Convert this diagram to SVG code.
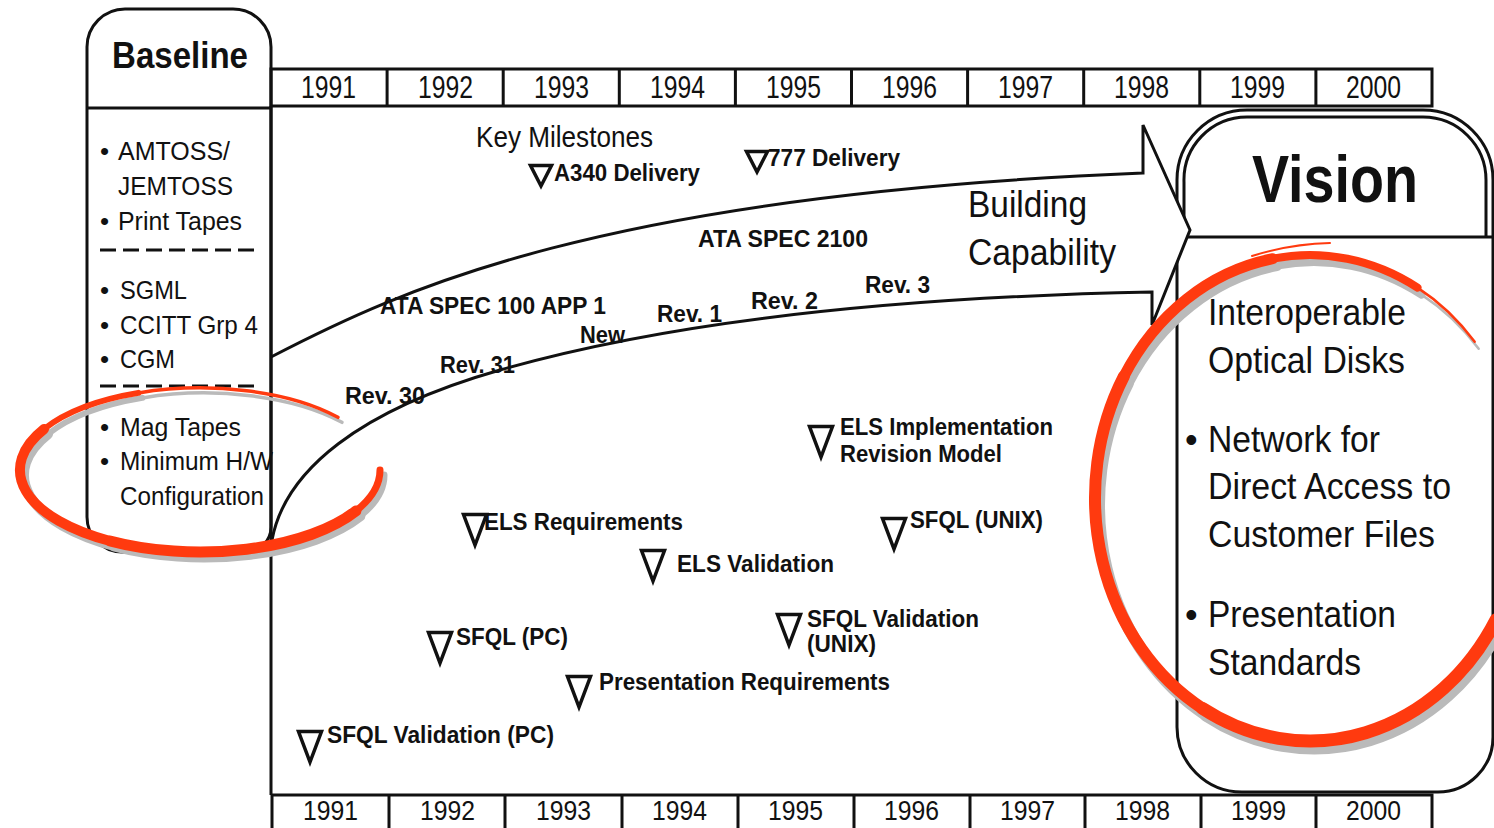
<svg xmlns="http://www.w3.org/2000/svg" xmlns:xlink="http://www.w3.org/1999/xlink" width="1494" height="828" viewBox="0 0 1494 828">
<style>
.ln{fill:none;stroke:#111;stroke-width:3}
.t{font-family:"Liberation Sans",Arial,sans-serif;fill:#111}
.yr{font-size:31px}
.yb{font-size:28px}
.bl{font-size:26px}
.ms{font-size:24px;font-weight:bold}
.vs{font-size:36px}
.tri{fill:none;stroke:#111;stroke-width:3.5;stroke-linejoin:miter}
.red{fill:none;stroke:#ff3a0f;stroke-linecap:round}
.shd{fill:none;stroke:#bababa;stroke-linecap:round}
</style>
<defs>
<path id="tri" class="tri" d="M1.5,1.5 H24.5 L13,32 Z"/>
<path id="triS" class="tri" d="M1.5,1.5 H22.5 L12,22 Z"/>
</defs>
<rect width="1494" height="828" fill="#fff"/>

<g id="vision">
<path class="ln" d="M1177,262 L1177,180 A70,70 0 0 1 1247,110 L1423,110 A70,70 0 0 1 1493,180 L1493,737 A55,55 0 0 1 1438,792 L1242,792 A65,65 0 0 1 1177,727 Z"/>
<path class="ln" stroke-width="2.5" d="M1184,237 L1184,182 A63,63 0 0 1 1247,117 L1423,117 A63,63 0 0 1 1486,180 L1486,237"/>
<line class="ln" x1="1177" y1="237" x2="1493" y2="237"/>
<text class="t" x="1252" y="202" font-size="66" font-weight="bold" textLength="166" lengthAdjust="spacingAndGlyphs">Vision</text>
<text class="t vs" x="1208" y="325" textLength="198" lengthAdjust="spacingAndGlyphs">Interoperable</text>
<text class="t vs" x="1208" y="373" textLength="197" lengthAdjust="spacingAndGlyphs">Optical Disks</text>
<text class="t vs" x="1185" y="452">•</text>
<text class="t vs" x="1208" y="452" textLength="172" lengthAdjust="spacingAndGlyphs">Network for</text>
<text class="t vs" x="1208" y="499" textLength="243" lengthAdjust="spacingAndGlyphs">Direct Access to</text>
<text class="t vs" x="1208" y="547" textLength="227" lengthAdjust="spacingAndGlyphs">Customer Files</text>
<text class="t vs" x="1185" y="627">•</text>
<text class="t vs" x="1208" y="627" textLength="188" lengthAdjust="spacingAndGlyphs">Presentation</text>
<text class="t vs" x="1208" y="675" textLength="153" lengthAdjust="spacingAndGlyphs">Standards</text>
</g>

<g id="arrow">
<path fill="#fff" stroke="none" d="M271,357 C400,290 600,195 1143,173 L1143,125 L1190,230 L1152,325 L1152,292 C850,298 640,330 500,370 C360,410 285,470 272,540 Z"/>
<path class="ln" d="M271,357 C400,290 600,195 1143,173 L1143,125 L1190,230 L1152,325 L1152,292 C850,298 640,330 500,370 C360,410 285,470 272,540"/>
<text class="t" x="968" y="217" font-size="37" textLength="119" lengthAdjust="spacingAndGlyphs">Building</text>
<text class="t" x="968" y="265" font-size="37" textLength="148" lengthAdjust="spacingAndGlyphs">Capability</text>
</g>

<g id="timeline-top">
<rect class="ln" x="271" y="69" width="1161" height="37"/>
<path class="ln" d="M387.1,69V106M503.2,69V106M619.3,69V106M735.4,69V106M851.5,69V106M967.6,69V106M1083.7,69V106M1199.8,69V106M1315.9,69V106"/>
<g class="t yr">
<text x="301" y="98" textLength="55" lengthAdjust="spacingAndGlyphs">1991</text>
<text x="418" y="98" textLength="55" lengthAdjust="spacingAndGlyphs">1992</text>
<text x="534" y="98" textLength="55" lengthAdjust="spacingAndGlyphs">1993</text>
<text x="650" y="98" textLength="55" lengthAdjust="spacingAndGlyphs">1994</text>
<text x="766" y="98" textLength="55" lengthAdjust="spacingAndGlyphs">1995</text>
<text x="882" y="98" textLength="55" lengthAdjust="spacingAndGlyphs">1996</text>
<text x="998" y="98" textLength="55" lengthAdjust="spacingAndGlyphs">1997</text>
<text x="1114" y="98" textLength="55" lengthAdjust="spacingAndGlyphs">1998</text>
<text x="1230" y="98" textLength="55" lengthAdjust="spacingAndGlyphs">1999</text>
<text x="1346" y="98" textLength="55" lengthAdjust="spacingAndGlyphs">2000</text>
</g>
</g>

<g id="timeline-bottom">
<rect class="ln" x="272" y="795" width="1160" height="45"/>
<path class="ln" d="M389,795V828M505,795V828M622,795V828M738,795V828M854,795V828M970,795V828M1085,795V828M1201,795V828M1316,795V828"/>
<g class="t yb">
<text x="303" y="820" textLength="55" lengthAdjust="spacingAndGlyphs">1991</text>
<text x="420" y="820" textLength="55" lengthAdjust="spacingAndGlyphs">1992</text>
<text x="536" y="820" textLength="55" lengthAdjust="spacingAndGlyphs">1993</text>
<text x="652" y="820" textLength="55" lengthAdjust="spacingAndGlyphs">1994</text>
<text x="768" y="820" textLength="55" lengthAdjust="spacingAndGlyphs">1995</text>
<text x="884" y="820" textLength="55" lengthAdjust="spacingAndGlyphs">1996</text>
<text x="1000" y="820" textLength="55" lengthAdjust="spacingAndGlyphs">1997</text>
<text x="1115" y="820" textLength="55" lengthAdjust="spacingAndGlyphs">1998</text>
<text x="1231" y="820" textLength="55" lengthAdjust="spacingAndGlyphs">1999</text>
<text x="1346" y="820" textLength="55" lengthAdjust="spacingAndGlyphs">2000</text>
</g>
</g>

<g id="main-frame">
<line class="ln" x1="271" y1="106" x2="271" y2="795"/>
</g>

<g id="baseline">
<path class="ln" d="M87,517 L87,47 A38,38 0 0 1 125,9 L233,9 A38,38 0 0 1 271,47 L271,527 A25,25 0 0 1 246,552 L122,552 A35,35 0 0 1 87,517 Z"/>
<line class="ln" x1="87" y1="108" x2="271" y2="108"/>
<path class="ln" stroke-width="2.5" stroke-dasharray="16,7" d="M100,250H258M100,386H258"/>
<text class="t" x="112" y="68" font-size="36" font-weight="bold" textLength="136" lengthAdjust="spacingAndGlyphs">Baseline</text>
<g class="t bl">
<text x="100" y="160">•</text><text x="118" y="160" textLength="112" lengthAdjust="spacingAndGlyphs">AMTOSS/</text>
<text x="118" y="195" textLength="115" lengthAdjust="spacingAndGlyphs">JEMTOSS</text>
<text x="100" y="230">•</text><text x="118" y="230" textLength="124" lengthAdjust="spacingAndGlyphs">Print Tapes</text>
<text x="100" y="299">•</text><text x="120" y="299" textLength="67" lengthAdjust="spacingAndGlyphs">SGML</text>
<text x="100" y="334">•</text><text x="120" y="334" textLength="138" lengthAdjust="spacingAndGlyphs">CCITT Grp 4</text>
<text x="100" y="368">•</text><text x="120" y="368" textLength="55" lengthAdjust="spacingAndGlyphs">CGM</text>
<text x="100" y="436">•</text><text x="120" y="436" textLength="121" lengthAdjust="spacingAndGlyphs">Mag Tapes</text>
<text x="100" y="470">•</text><text x="120" y="470" textLength="153" lengthAdjust="spacingAndGlyphs">Minimum H/W</text>
<text x="120" y="505" textLength="144" lengthAdjust="spacingAndGlyphs">Configuration</text>
</g>
</g>

<g id="connectors">
<text class="t" x="476" y="147" font-size="29" textLength="177" lengthAdjust="spacingAndGlyphs">Key Milestones</text>
<g class="t ms">
<text x="698" y="247" textLength="170" lengthAdjust="spacingAndGlyphs">ATA SPEC 2100</text>
<text x="380" y="314" textLength="226" lengthAdjust="spacingAndGlyphs">ATA SPEC 100 APP 1</text>
<text x="345" y="404" textLength="80" lengthAdjust="spacingAndGlyphs">Rev. 30</text>
<text x="440" y="373" textLength="75" lengthAdjust="spacingAndGlyphs">Rev. 31</text>
<text x="580" y="343" textLength="45" lengthAdjust="spacingAndGlyphs">New</text>
<text x="657" y="322" textLength="65" lengthAdjust="spacingAndGlyphs">Rev. 1</text>
<text x="751" y="309" textLength="67" lengthAdjust="spacingAndGlyphs">Rev. 2</text>
<text x="865" y="293" textLength="65" lengthAdjust="spacingAndGlyphs">Rev. 3</text>
</g>
</g>

<g id="milestone-a340"><use xlink:href="#triS" x="529" y="164"/><text class="t ms" x="554" y="181" textLength="146" lengthAdjust="spacingAndGlyphs">A340 Delivery</text></g>
<g id="milestone-777"><use xlink:href="#triS" x="745" y="150"/><text class="t ms" x="768" y="166" textLength="132" lengthAdjust="spacingAndGlyphs">777 Delivery</text></g>
<g id="milestone-els-impl"><use xlink:href="#tri" x="808" y="425"/><text class="t ms" x="840" y="435" textLength="213" lengthAdjust="spacingAndGlyphs">ELS Implementation</text><text class="t ms" x="840" y="462" textLength="162" lengthAdjust="spacingAndGlyphs">Revision Model</text></g>
<g id="milestone-sfql-unix"><use xlink:href="#tri" x="881" y="517"/><text class="t ms" x="910" y="528" textLength="133" lengthAdjust="spacingAndGlyphs">SFQL (UNIX)</text></g>
<g id="milestone-els-req"><use xlink:href="#tri" x="462" y="513"/><text class="t ms" x="484" y="530" textLength="199" lengthAdjust="spacingAndGlyphs">ELS Requirements</text></g>
<g id="milestone-els-val"><use xlink:href="#tri" x="640" y="549"/><text class="t ms" x="677" y="572" textLength="157" lengthAdjust="spacingAndGlyphs">ELS Validation</text></g>
<g id="milestone-sfql-pc"><use xlink:href="#tri" x="427" y="631"/><text class="t ms" x="456" y="645" textLength="112" lengthAdjust="spacingAndGlyphs">SFQL (PC)</text></g>
<g id="milestone-sfql-val-unix"><use xlink:href="#tri" x="776" y="613"/><text class="t ms" x="807" y="627" textLength="172" lengthAdjust="spacingAndGlyphs">SFQL Validation</text><text class="t ms" x="807" y="652" textLength="69" lengthAdjust="spacingAndGlyphs">(UNIX)</text></g>
<g id="milestone-pres-req"><use xlink:href="#tri" x="566" y="675"/><text class="t ms" x="599" y="690" textLength="291" lengthAdjust="spacingAndGlyphs">Presentation Requirements</text></g>
<g id="milestone-sfql-val-pc"><use xlink:href="#tri" x="297" y="730"/><text class="t ms" x="327" y="743" textLength="227" lengthAdjust="spacingAndGlyphs">SFQL Validation (PC)</text></g>

<g id="highlight-baseline">
<g class="shd" transform="translate(4,5)">
<path stroke-width="3.5" d="M337.9,417.3 A180,82 0 0 0 138.4,392.9"/>
<path stroke-width="6" d="M138.4,392.9 A180,82 0 0 0 44.1,429"/>
<path stroke-width="10" d="M44.1,429 A180,82 0 0 0 110,541"/>
<path stroke-width="11" d="M110,541 A180,82 0 0 0 355.9,511"/>
<path stroke-width="7" d="M355.9,511 A180,82 0 0 0 380,470"/>
</g>
<g class="red">
<path stroke-width="3.5" d="M337.9,417.3 A180,82 0 0 0 138.4,392.9"/>
<path stroke-width="6" d="M138.4,392.9 A180,82 0 0 0 44.1,429"/>
<path stroke-width="10" d="M44.1,429 A180,82 0 0 0 110,541"/>
<path stroke-width="11" d="M110,541 A180,82 0 0 0 355.9,511"/>
<path stroke-width="7" d="M355.9,511 A180,82 0 0 0 380,470"/>
</g>
</g>

<g id="highlight-vision">
<g class="shd" transform="translate(4,7)">
<path stroke-width="2.5" d="M1474.7,341.8 A215,243 0 0 0 1417.5,287.6"/>
<path stroke-width="8" d="M1417.5,287.6 A215,243 0 0 0 1272.7,258.7"/>
<path stroke-width="11" d="M1272.7,258.7 A215,243 0 0 0 1123.8,376.5"/>
<path stroke-width="12" d="M1123.8,376.5 A215,243 0 0 0 1202.5,708.4"/>
<path stroke-width="13" d="M1202.5,708.4 A215,243 0 0 0 1496.2,619.5"/>
</g>
<g class="red">
<path stroke-width="2.5" d="M1474.7,341.8 A215,243 0 0 0 1417.5,287.6"/>
<path stroke-width="8" d="M1417.5,287.6 A215,243 0 0 0 1272.7,258.7"/>
<path stroke-width="11" d="M1272.7,258.7 A215,243 0 0 0 1123.8,376.5"/>
<path stroke-width="12" d="M1123.8,376.5 A215,243 0 0 0 1202.5,708.4"/>
<path stroke-width="13" d="M1202.5,708.4 A215,243 0 0 0 1496.2,619.5"/>
<path stroke-width="2" d="M1252,256 Q1290,244 1330,243"/>
</g>
</g>
</svg>
